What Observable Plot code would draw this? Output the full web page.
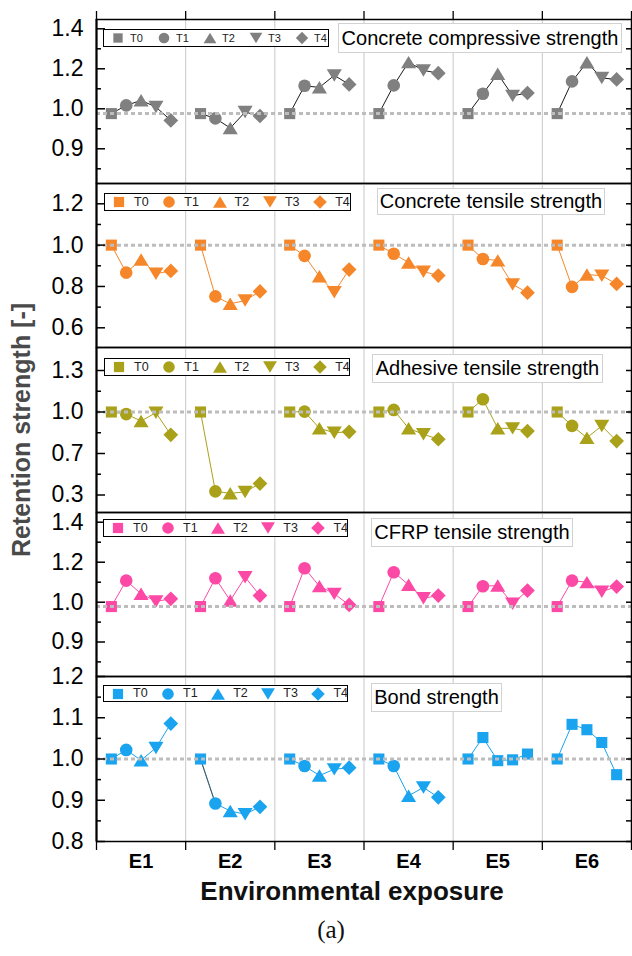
<!DOCTYPE html>
<html><head><meta charset="utf-8">
<script src="https://cdn.jsdelivr.net/npm/d3@7"></script>
<script src="https://cdn.jsdelivr.net/npm/@observablehq/plot@0.6"></script>
<style>
html,body{margin:0;padding:0;background:#fff;}
#chart{position:relative;width:632px;height:956px;overflow:hidden;font-family:'Liberation Sans',Arial,sans-serif;background:#fff;}
.panel{position:absolute;left:0;}
.legend{position:absolute;border:1.3px solid #000;background:#fff;box-sizing:border-box;}
.legend span{position:absolute;color:#222;line-height:1;white-space:nowrap;}
.legend svg{position:absolute;overflow:visible;}
.title{position:absolute;border:1px solid #d2d2d2;background:#fff;box-sizing:border-box;font-size:20px;color:#000;white-space:nowrap;display:flex;align-items:center;justify-content:center;}
.txt{position:absolute;white-space:nowrap;}
</style></head><body><div id="chart"></div>
<script>
// ---------------- data ----------------
const environments = ["E1","E2","E3","E4","E5","E6"];
const treatments = ["T0","T1","T2","T3","T4"];
const panelTitles = ["Concrete compressive strength","Concrete tensile strength","Adhesive tensile strength","CFRP tensile strength","Bond strength"];
// rows: E1..E6, columns: T0..T4 (retention strength)
const compressive = [
  [0.988, 1.017, 1.042, 1.009, 0.971],
  [0.988, 0.976, 0.952, 0.992, 0.982],
  [0.988, 1.115, 1.107, 1.167, 1.122],
  [0.988, 1.117, 1.233, 1.192, 1.178],
  [0.988, 1.075, 1.175, 1.065, 1.079],
  [0.988, 1.137, 1.232, 1.154, 1.147]
];
const tensile = [
  [1.0, 0.867, 0.930, 0.862, 0.875],
  [1.0, 0.752, 0.716, 0.732, 0.776],
  [1.0, 0.948, 0.849, 0.772, 0.882],
  [1.0, 0.958, 0.916, 0.872, 0.853],
  [1.0, 0.933, 0.926, 0.810, 0.770],
  [1.0, 0.798, 0.858, 0.852, 0.812]
];
const adhesive = [
  [1.0, 0.985, 0.935, 0.995, 0.835],
  [1.0, 0.335, 0.316, 0.330, 0.410],
  [1.0, 1.003, 0.882, 0.850, 0.857],
  [1.0, 1.015, 0.882, 0.839, 0.803],
  [1.0, 1.092, 0.882, 0.882, 0.862],
  [1.0, 0.900, 0.814, 0.900, 0.790]
];
const cfrp = [
  [0.989, 1.108, 1.042, 1.004, 1.017],
  [0.989, 1.120, 1.008, 1.125, 1.033],
  [0.989, 1.170, 1.080, 1.042, 0.993],
  [0.989, 1.150, 1.087, 1.020, 1.033],
  [0.989, 1.080, 1.083, 0.996, 1.058],
  [0.989, 1.108, 1.100, 1.053, 1.078]
];
const bond = [
  [1.0, 1.022, 0.997, 1.027, 1.086],
  [1.0, 0.892, 0.874, 0.866, 0.884],
  [1.0, 0.983, 0.960, 0.975, 0.979],
  [1.0, 0.983, 0.911, 0.931, 0.907],
  [1.0, 1.052, 0.996, 0.998, 1.012],
  [1.0, 1.084, 1.071, 1.040, 0.962]
];
const panelValues = [compressive, tensile, adhesive, cfrp, bond];
const referenceLevels = [0.988, 1.0, 1.0, 0.989, 1.0];
const majorTicks = [[0.9,1.0,1.2,1.4],[0.6,0.8,1.0,1.2],[0.3,0.7,1.0,1.3],[0.9,1.0,1.2,1.4],[0.8,0.9,1.0,1.1,1.2]];
const minorTicks = [[0.85,0.95,1.1,1.3],[0.7,0.9,1.1],[0.5,0.85,1.15],[0.85,0.95,1.1,1.3],[0.85,0.95,1.05,1.15]];
// Bond strength: in E5 and E6 every specimen is drawn with the square marker
const squareOnlyGroups = [[],[],[],[],["E5","E6"]];
// Bond strength, E2: T0 -> T1 connector drawn in grey
const greySegments = [[],[],[],[],[["E2","T0","T1"]]];

// ---------------- styling / layout ----------------
const markerColor = ["#808080","#f5872a","#a9a11a","#fc49a6","#1aa3ef"];
const lineColor   = ["#1a1a1a","#f5872a","#a9a11a","#fc49a6","#1aa3ef"];
const panelTop    = [19, 183, 347, 512, 676];
const panelBottom = [183, 347, 512, 676, 841];
const yDomain = [[0.9,1.0,1.2,1.4],[0.6,1.2],[0.3,0.7,1.0,1.3],[0.9,1.0,1.2,1.4],[0.8,1.2]];
const yPixels = [[148.3,108.3,68.3,28.3],[327.3,203.3],[494.5,453,411.5,370],[641.5,601.7,561.7,521.7],[841,676]];
const legendBox = [[103,29,226,18],[104,193,247,18],[104,358,246,18],[103,519,245,18],[103,685,245,17]];
const legendStep = [46, 50.3, 50.3, 50.1, 50.1];
const legendFont = [11, 12.5, 12.5, 12.5, 12.5];
const legendGap = [12, 15, 15, 15, 15];
const titleBox = [[338,23,284,30],[377,188,228,27],[372,354,231,29],[371,518,202,29],[371,683,131,29]];
const W = 632, ML = 96, MR = 1, plotW = W - ML - MR;

function drawShape(ctx, name, r) {
  if (name === "T0") { const h = r*0.88; ctx.moveTo(-h,-h); ctx.lineTo(h,-h); ctx.lineTo(h,h); ctx.lineTo(-h,h); ctx.closePath(); }
  else if (name === "T1") { ctx.moveTo(r,0); ctx.arc(0,0,r,0,2*Math.PI); ctx.closePath(); }
  else if (name === "T2") { const w = r*1.2; ctx.moveTo(0,-r); ctx.lineTo(w,r*0.98); ctx.lineTo(-w,r*0.98); ctx.closePath(); }
  else if (name === "T3") { const w = r*1.2; ctx.moveTo(0,r); ctx.lineTo(w,-r*0.98); ctx.lineTo(-w,-r*0.98); ctx.closePath(); }
  else { const d = r*1.17; ctx.moveTo(0,-d); ctx.lineTo(d,0); ctx.lineTo(0,d); ctx.lineTo(-d,0); ctx.closePath(); }
}
const symbols = Object.fromEntries(treatments.map(t => [t, {draw(ctx, size) { drawShape(ctx, t, Math.sqrt(size/Math.PI)); }}]));

const chart = document.getElementById("chart");

panelValues.forEach((values, k) => {
  const rows = environments.flatMap((env, g) => treatments.map((t, i) => ({
    env, t, value: values[g][i], x: g + (i + 1) / 6,
    shape: squareOnlyGroups[k].includes(env) ? "T0" : t
  })));
  const segs = greySegments[k].map(([env, a, b]) => ({
    a: rows.find(d => d.env === env && d.t === a), b: rows.find(d => d.env === env && d.t === b)
  }));
  const first = k === 0, last = k === panelValues.length - 1;
  const mt = 20, mb = last ? 45 : 20;
  const top0 = panelTop[k] - mt;
  const H = mt + (panelBottom[k] - panelTop[k]) + mb;
  const marks = [
    Plot.ruleX([1,2,3,4,5], {stroke: "#c8c8c8", strokeWidth: 1}),
    Plot.line(rows, {x: "x", y: "value", z: "env", stroke: lineColor[k], strokeWidth: 1}),
    Plot.link(segs, {x1: d => d.a.x, y1: d => d.a.value, x2: d => d.b.x, y2: d => d.b.value, stroke: "#555", strokeWidth: 1}),
    ...treatments.map(t => Plot.dot(rows.filter(d => d.shape === t), {x: "x", y: "value", symbol: symbols[t], r: 6.3, fill: markerColor[k], stroke: "none"})),
    Plot.ruleY([referenceLevels[k]], {stroke: "#bdbdbd", strokeWidth: 3, strokeDasharray: "4 3"}),
    Plot.tickY(majorTicks[k], {y: d => d, insetRight: plotW - 9, stroke: "#000", strokeWidth: 1.5}),
    Plot.tickY(minorTicks[k], {y: d => d, insetRight: plotW - 5, stroke: "#000", strokeWidth: 1.5}),
    Plot.tickY([...majorTicks[k], ...minorTicks[k]], {y: d => d, insetLeft: plotW - 5, stroke: "#000", strokeWidth: 1.5}),
    Plot.frame({stroke: "#000", strokeWidth: 1.5}),
    Plot.ruleX([0], {stroke: "#000", strokeWidth: 2}),
    Plot.axisY({ticks: majorTicks[k], tickSize: 0, tickPadding: 13, fontSize: 23, tickFormat: d3.format(".1f"), label: null})
  ];
  if (first) marks.push(Plot.axisX({anchor: "top", ticks: [0,1,2,3,4,5,6], tickSize: 9, strokeWidth: 1.3, tickFormat: () => "", label: null}));
  if (last) {
    marks.push(Plot.axisX({anchor: "bottom", ticks: [0,1,2,3,4,5,6], tickSize: 9, strokeWidth: 1.3, tickFormat: () => "", label: null}));
    marks.push(Plot.axisX({anchor: "bottom", ticks: environments.map((e, g) => g + 0.5), tickSize: 0, tickPadding: 12, fontSize: 20, fontWeight: "bold", tickFormat: d => environments[Math.floor(d)], label: null}));
  }
  const svg = Plot.plot({
    width: W, height: H,
    marginLeft: ML, marginRight: MR, marginTop: mt, marginBottom: mb,
    style: {background: "transparent", overflow: "visible", fontFamily: "'Liberation Sans', Arial, sans-serif", color: "#000"},
    x: {type: "linear", domain: [0, 6], axis: (first || last) ? undefined : null},
    y: {type: "linear", domain: yDomain[k], range: yPixels[k].map(p => p - top0)},
    marks
  });
  svg.classList.add("panel");
  svg.style.top = top0 + "px";
  chart.appendChild(svg);

  // legend box
  const [lx, ly, lw, lh] = legendBox[k];
  const lg = document.createElement("div");
  lg.className = "legend";
  Object.assign(lg.style, {left: lx + "px", top: ly + "px", width: lw + "px", height: lh + "px"});
  treatments.forEach((t, i) => {
    const cx = 14 + i * legendStep[k];
    const r = k === 0 ? 5.3 : 5.8;
    const s = d3.create("svg").attr("width", 1).attr("height", 1)
      .style("left", cx + "px").style("top", (lh / 2 - 1) + "px");
    const p = d3.path(); drawShape(p, t, r);
    s.append("path").attr("d", p.toString()).attr("fill", markerColor[k]);
    lg.appendChild(s.node());
    const sp = document.createElement("span");
    sp.textContent = t;
    Object.assign(sp.style, {left: (cx + legendGap[k]) + "px", top: (lh / 2 - 1 - legendFont[k] / 2) + "px", fontSize: legendFont[k] + "px"});
    lg.appendChild(sp);
  });
  chart.appendChild(lg);

  // panel title box
  const [tx, ty, tw, th] = titleBox[k];
  const tb = document.createElement("div");
  tb.className = "title";
  tb.textContent = panelTitles[k];
  Object.assign(tb.style, {left: tx + "px", top: ty + "px", width: tw + "px", height: th + "px"});
  chart.appendChild(tb);
});

// axis titles and caption
function addText(text, css) {
  const d = document.createElement("div");
  d.className = "txt"; d.textContent = text;
  Object.assign(d.style, css);
  chart.appendChild(d);
  return d;
}
addText("Retention strength [-]", {left: "21px", top: "430px", fontSize: "25px", fontWeight: "bold", color: "#4a4a4a",
  transform: "translate(-50%,-50%) rotate(-90deg)", lineHeight: "1"});
addText("Environmental exposure", {left: "352px", top: "891px", fontSize: "26px", fontWeight: "bold", color: "#111",
  transform: "translate(-50%,-50%)", lineHeight: "1"});
addText("(a)", {left: "331px", top: "929px", fontSize: "25px", fontFamily: "'Liberation Serif','Times New Roman',serif", color: "#111",
  transform: "translate(-50%,-50%)", lineHeight: "1"});
</script></body></html>
